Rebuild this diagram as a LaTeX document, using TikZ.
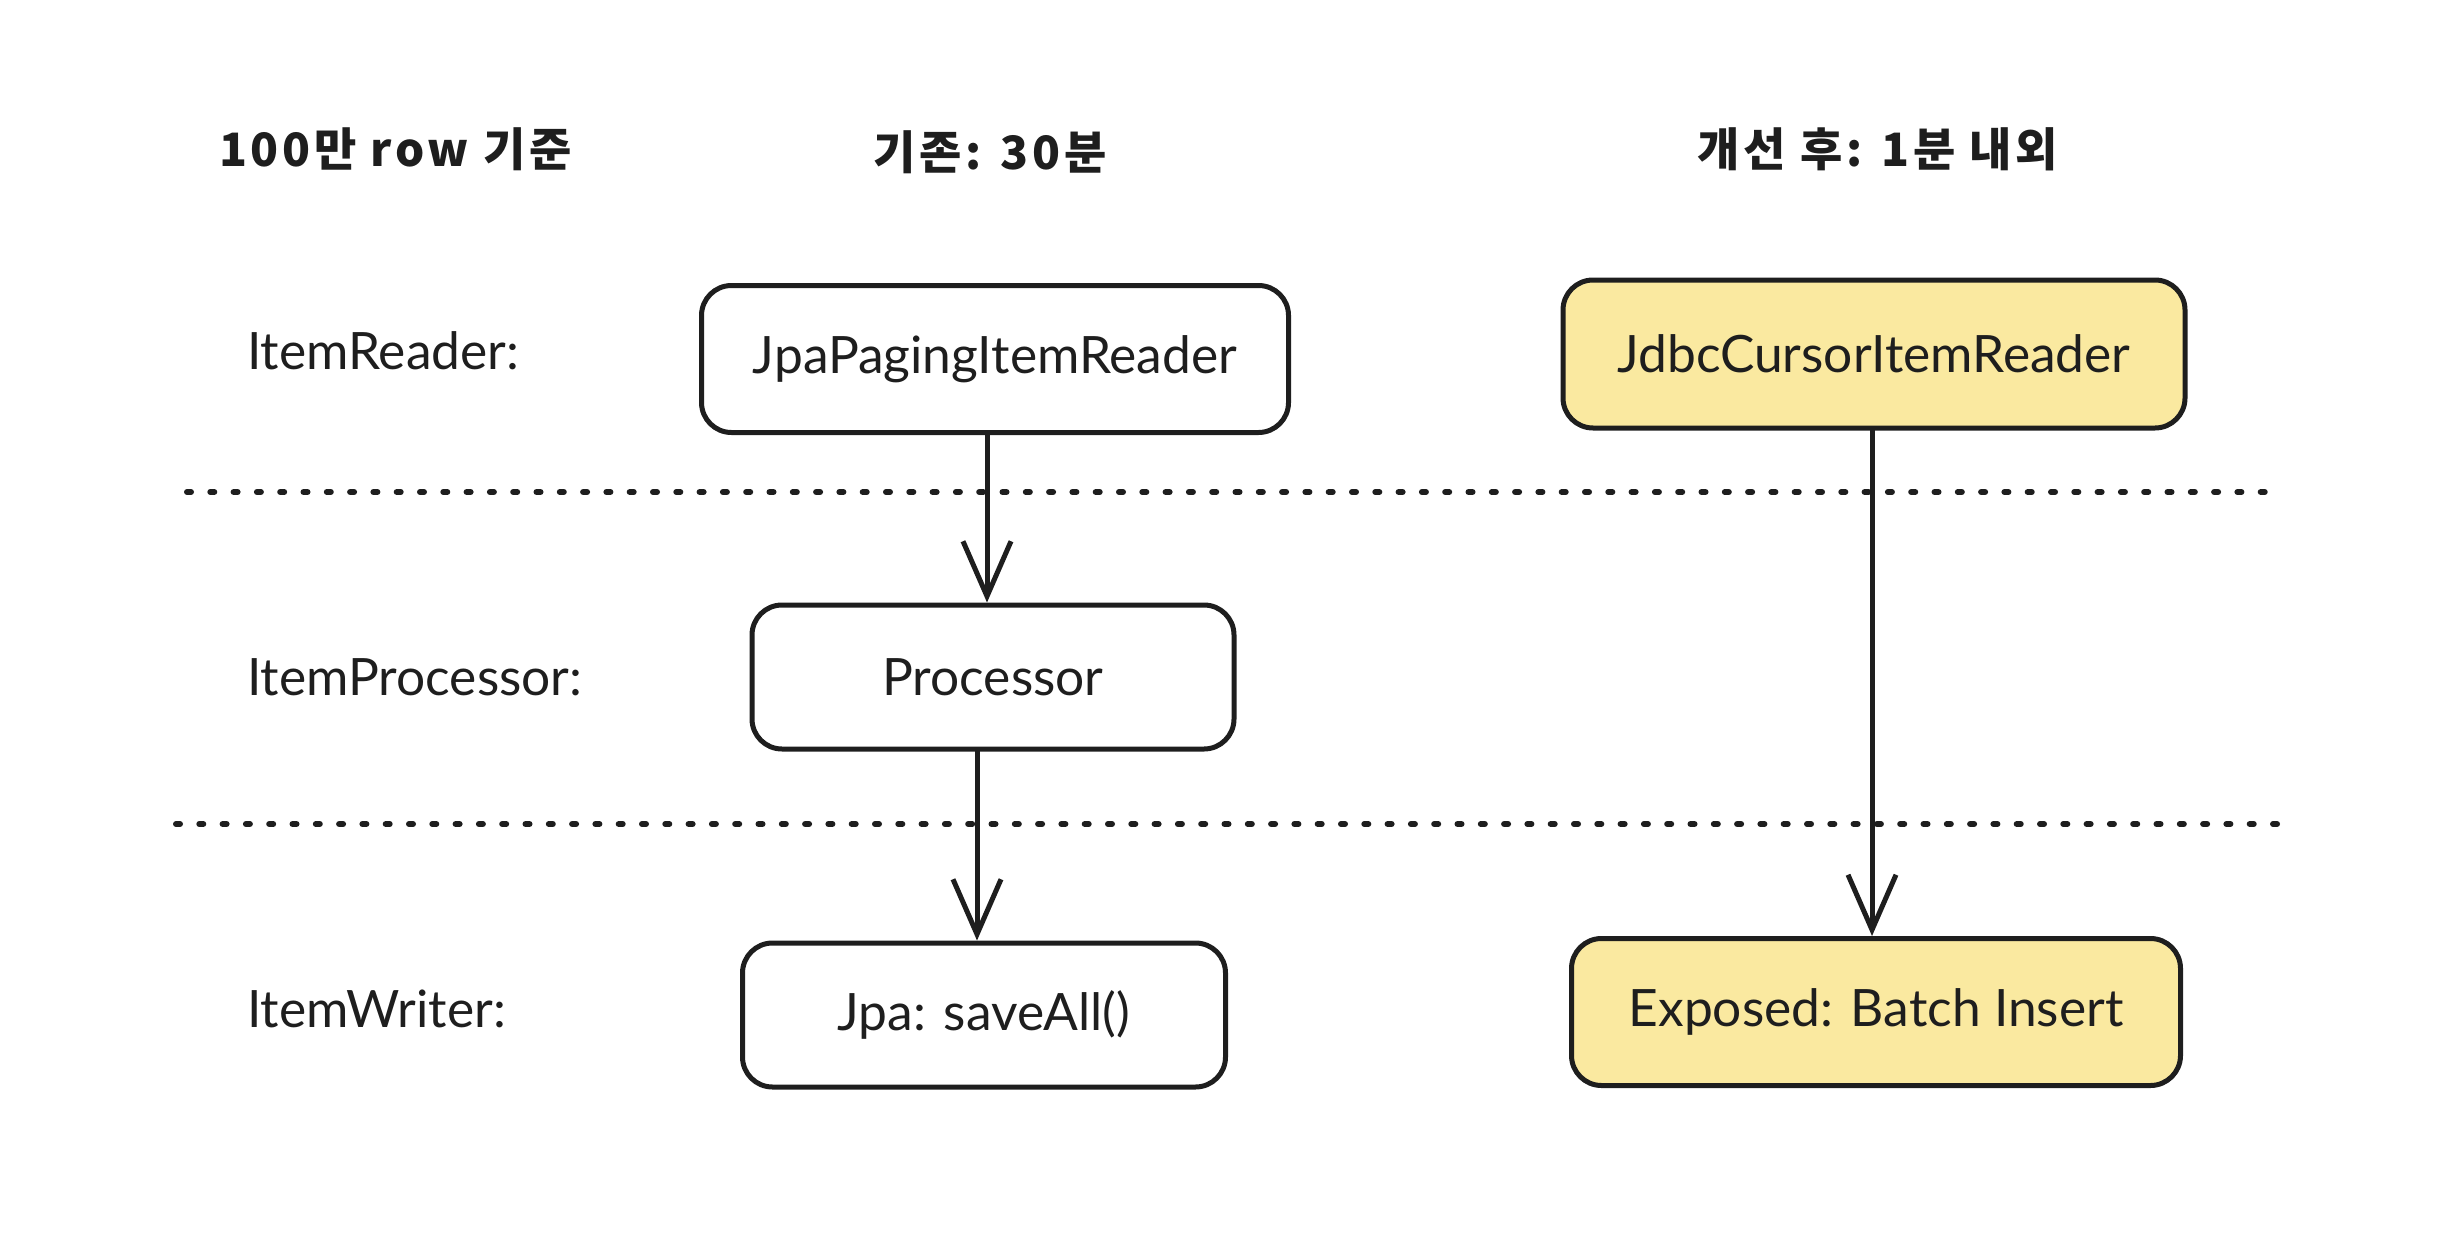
\documentclass[tikz,border=0pt]{standalone}
\usepackage{fontspec}
\setmainfont{Lato}
\newfontfamily\kr[LetterSpace=8]{Noto Sans CJK KR}
\usetikzlibrary{arrows.meta}
\definecolor{ink}{HTML}{1E1E1E}
\definecolor{hl}{HTML}{FAE9A0}
\tikzset{
  box/.style={draw=ink, line width=5pt, rounded corners=30pt, fill=white, inner sep=0pt,
    font=\fontsize{51.5}{60}\selectfont, text=ink},
  hlbox/.style={box, fill=hl},
  lbl/.style={anchor=west, inner sep=0pt, font=\fontsize{51.5}{60}\selectfont, text=ink},
  hdr/.style={inner sep=0pt, font=\kr\bfseries\fontsize{46}{54}\selectfont, text=ink},
  sep/.style={draw=ink, line width=6pt, line cap=round, dash pattern=on 4pt off 19.3pt},
  flow/.style={draw=ink, line width=5pt, line cap=round,
    -{Straight Barb[length=55pt,width=48pt,line width=5pt]}}
}
\begin{document}
\begin{tikzpicture}[x=1pt,y=-1pt]
\useasboundingbox (0,0) rectangle (2456,1236);
% headers
\node[hdr, anchor=west] (h0) at (219,149) {100만 row 기준};
\node[hdr] (h1) at (990,152) {기존: 30분};
\node[hdr] (h2) at (1878,149) {개선 후: 1분 내외};
% row labels
\node[lbl] (l1) at (247,351) {ItemReader:};
\node[lbl] (l2) at (247,677) {ItemProcessor:};
\node[lbl] (l3) at (247,1009) {ItemWriter:};
% separators
\coordinate (s1a) at (187,492);
\coordinate (s1b) at (2281,492);
\coordinate (s2a) at (176,824);
\coordinate (s2b) at (2288,824);
\draw[sep] (s1a) -- (s1b);
\draw[sep] (s2a) -- (s2b);
% boxes
\node[box, minimum width=587pt, minimum height=147pt] (jpr) at (995,359) {JpaPagingItemReader};
\node[hlbox, minimum width=622pt, minimum height=148pt] (jdbc) at (1874,354) {JdbcCursorItemReader};
\node[box, minimum width=482pt, minimum height=144pt] (proc) at (993,677) {Processor};
\node[box, minimum width=483pt, minimum height=144pt] (jpw) at (984,1015) {Jpa: saveAll()};
\node[hlbox, minimum width=609pt, minimum height=147pt] (exp) at (1876,1012) {Exposed: Batch Insert};
% arrows
\draw[flow] ([xshift=-8pt]jpr.south) -- ([xshift=-6pt]proc.north);
\draw[flow] ([xshift=-16pt]proc.south) -- ([xshift=-7pt]jpw.north);
\draw[flow] ([xshift=-2pt]jdbc.south) -- ([xshift=-4pt]exp.north);
\end{tikzpicture}
\end{document}
